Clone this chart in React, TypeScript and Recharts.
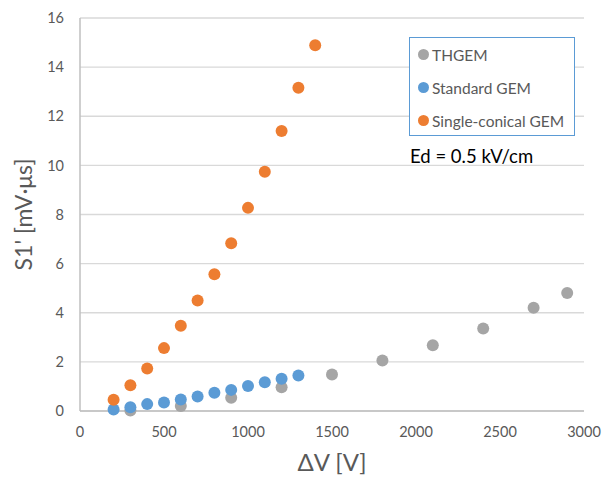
import React from 'react';
import { ScatterChart, Scatter, XAxis, YAxis, CartesianGrid, Customized } from 'recharts';

const thgemX = [300, 600, 900, 1200, 1500, 1800, 2100, 2400, 2700, 2900];
const thgemY = [0.02, 0.2, 0.54, 0.97, 1.49, 2.06, 2.68, 3.36, 4.2, 4.8];

const standardX = [200, 300, 400, 500, 600, 700, 800, 900, 1000, 1100, 1200, 1300];
const standardY = [0.06, 0.15, 0.28, 0.35, 0.47, 0.59, 0.74, 0.86, 1.02, 1.17, 1.31, 1.45];

const conicalX = [200, 300, 400, 500, 600, 700, 800, 900, 1000, 1100, 1200, 1300, 1400];
const conicalY = [0.46, 1.05, 1.73, 2.56, 3.47, 4.5, 5.57, 6.83, 8.27, 9.74, 11.4, 13.16, 14.89];

const xTicks = [0, 500, 1000, 1500, 2000, 2500, 3000];
const yTicks = [0, 2, 4, 6, 8, 10, 12, 14, 16];

const seriesNames = ['THGEM', 'Standard GEM', 'Single-conical GEM'];
const seriesColors = ['#a5a5a5', '#5b9bd5', '#ed7d31'];

const toPoints = (xs: number[], ys: number[]) => xs.map((x, i) => ({ x, y: ys[i] }));

const FONT = 'Lato, "Open Sans", sans-serif';

const dot = (color: string) => (props: any) => (
  <circle cx={props.cx} cy={props.cy} r={6} fill={color} />
);

const LegendBox = () => (
  <div
    style={{
      position: 'absolute',
      left: 409,
      top: 37,
      width: 166,
      height: 99,
      border: '1.5px solid #5b9bd5',
      background: '#fff',
      fontFamily: FONT,
      fontSize: 15.5,
      color: '#595959',
      boxSizing: 'border-box',
      paddingTop: 0,
    }}
  >
    {seriesNames.map((n, i) => (
      <div key={n} style={{ display: 'flex', alignItems: 'center', height: 33, paddingLeft: 7, whiteSpace: 'nowrap' }}>
        <svg width={13} height={13} style={{ marginRight: 2, flexShrink: 0 }}>
          <circle cx={6.5} cy={6.5} r={5.5} fill={seriesColors[i]} />
        </svg>
        <span>{n}</span>
      </div>
    ))}
  </div>
);

const EdLabel = () => (
  <text x={410} y={163} fontFamily={FONT} fontSize={18.5} fill="#000">
    Ed = 0.5 kV/cm
  </text>
);

export default function App() {
  const datasets = [toPoints(thgemX, thgemY), toPoints(standardX, standardY), toPoints(conicalX, conicalY)];
  return (
    <div style={{ position: 'absolute', left: 0, top: 0, width: 603, height: 480, background: '#fff' }}>
      <ScatterChart width={603} height={480} margin={{ top: 18, right: 19, left: 0, bottom: 29 }}>
        <CartesianGrid vertical={false} stroke="#d9d9d9" strokeWidth={1.3} />
        <XAxis
          type="number"
          dataKey="x"
          domain={[0, 3000]}
          ticks={xTicks}
          height={40}
          tickLine={false}
          tickSize={0}
          tickMargin={16}
          axisLine={{ stroke: '#bfbfbf', strokeWidth: 1.5 }}
          tick={{ fill: '#595959', fontSize: 14.5, fontFamily: FONT }}
          label={{ value: 'ΔV [V]', position: 'insideBottom', offset: -20, fill: '#595959', fontSize: 24, fontFamily: FONT }}
        />
        <YAxis
          type="number"
          dataKey="y"
          domain={[0, 16]}
          ticks={yTicks}
          width={80}
          tickLine={false}
          tickSize={0}
          tickMargin={16}
          axisLine={{ stroke: '#bfbfbf', strokeWidth: 1.5 }}
          tick={{ fill: '#595959', fontSize: 14.5, fontFamily: FONT }}
          label={{ value: "S1' [mV·μs]", angle: -90, position: 'insideLeft', offset: 24, fill: '#595959', fontSize: 23, fontFamily: FONT, style: { textAnchor: 'middle' } }}
        />
        {datasets.map((d, i) => (
          <Scatter
            key={seriesNames[i]}
            name={seriesNames[i]}
            data={d}
            fill={seriesColors[i]}
            shape={dot(seriesColors[i])}
            isAnimationActive={false}
          />
        ))}
        <Customized component={EdLabel} />
      </ScatterChart>
      <LegendBox />
    </div>
  );
}
